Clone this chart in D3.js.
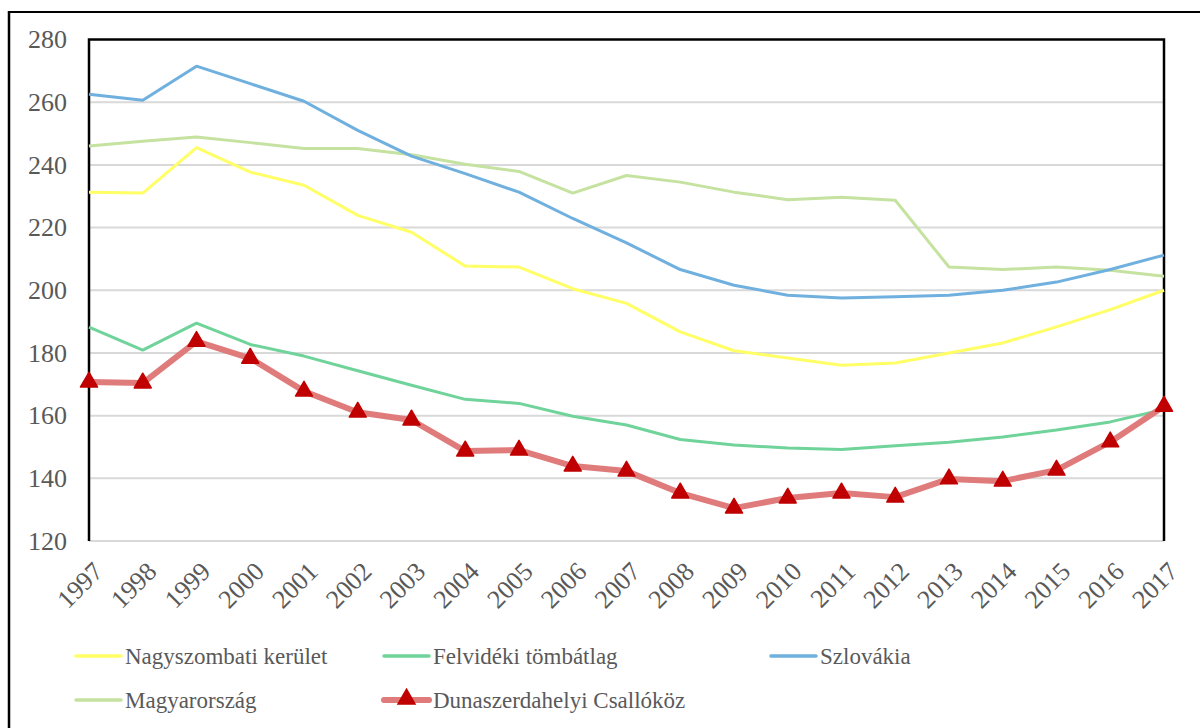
<!DOCTYPE html>
<html>
<head>
<meta charset="utf-8">
<script src="https://cdn.jsdelivr.net/npm/d3@7"></script>
<style>
  body { margin: 0; background: #fff; }
  svg text { font-family: "Liberation Serif", "Times New Roman", "DejaVu Serif", serif; fill: #595959; }
</style>
</head>
<body>
<div id="chart"></div>
<script>
// Years on the x axis
var years = [1997, 1998, 1999, 2000, 2001, 2002, 2003, 2004, 2005, 2006, 2007,
             2008, 2009, 2010, 2011, 2012, 2013, 2014, 2015, 2016, 2017];

// Series values
var nagyszombati = [231.3, 231.0, 245.5, 237.7, 233.5, 223.9, 218.5, 207.7, 207.4, 200.5, 195.8,
                    186.7, 180.7, 178.4, 176.1, 176.8, 180.0, 183.2, 188.3, 193.8, 200.0];
var felvideki = [188.2, 180.9, 189.5, 182.7, 179.0, 174.3, 169.7, 165.2, 163.9, 159.8, 157.0,
                 152.4, 150.6, 149.7, 149.2, 150.4, 151.5, 153.2, 155.4, 158.0, 162.0];
var szlovakia = [262.5, 260.6, 271.5, 265.9, 260.3, 251.0, 242.8, 237.2, 231.3, 222.9, 215.1,
                 206.6, 201.6, 198.4, 197.5, 197.9, 198.4, 200.0, 202.6, 206.6, 211.2];
var magyarorszag = [246.0, 247.5, 248.9, 247.1, 245.2, 245.2, 243.2, 240.2, 237.9, 231.0, 236.6,
                    234.5, 231.3, 228.9, 229.7, 228.7, 207.4, 206.6, 207.4, 206.4, 204.5];
var dunaszerdahelyi = [170.7, 170.4, 183.7, 178.3, 167.8, 161.1, 158.6, 148.7, 149.0, 143.9, 142.3,
                       135.3, 130.5, 133.7, 135.3, 134.0, 139.8, 139.1, 142.6, 151.6, 163.0];

var yTicks = [120, 140, 160, 180, 200, 220, 240, 260, 280];

var width = 1200;
var height = 728;
var margin = { top: 39.5, right: 36, bottom: 187, left: 89 };

var svg = d3.select("#chart")
  .append("svg")
  .attr("width", width)
  .attr("height", height);

// Outer frame (only top and left edges are visible)
svg.append("line")
  .attr("x1", 9).attr("x2", width).attr("y1", 12).attr("y2", 12)
  .attr("stroke", "#000").attr("stroke-width", 2);
svg.append("line")
  .attr("x1", 9).attr("x2", 9).attr("y1", 11).attr("y2", height)
  .attr("stroke", "#000").attr("stroke-width", 2.5);

var xScale = d3.scalePoint()
  .domain(years)
  .range([margin.left, width - margin.right]);

var yScale = d3.scaleLinear()
  .domain([120, 280])
  .range([height - margin.bottom, margin.top]);

// Gridlines
svg.append("g")
  .selectAll("line")
  .data(yTicks.slice(0, -1))
  .enter().append("line")
  .attr("x1", margin.left)
  .attr("x2", width - margin.right)
  .attr("y1", function (d) { return yScale(d); })
  .attr("y2", function (d) { return yScale(d); })
  .attr("stroke", "#d9d9d9")
  .attr("stroke-width", 2);

// Plot border: top, left, right
svg.append("path")
  .attr("d", "M" + margin.left + "," + (height - margin.bottom) +
             "V" + margin.top +
             "H" + (width - margin.right) +
             "V" + (height - margin.bottom))
  .attr("fill", "none")
  .attr("stroke", "#000")
  .attr("stroke-width", 2.5);

// Y axis labels
var yAxis = svg.append("g")
  .attr("transform", "translate(" + margin.left + ",0)")
  .call(d3.axisLeft(yScale).tickValues(yTicks).tickSize(0).tickPadding(22));
yAxis.select(".domain").remove();
yAxis.selectAll("text")
  .style("font-size", "26px")
  .attr("fill", "#595959");

// X axis labels, rotated
var xAxis = svg.append("g")
  .attr("transform", "translate(0," + (height - margin.bottom) + ")")
  .call(d3.axisBottom(xScale).tickSize(0).tickFormat(function (d) { return d; }));
xAxis.select(".domain").remove();
xAxis.selectAll("text")
  .style("font-size", "26px")
  .attr("fill", "#595959")
  .style("text-anchor", "end")
  .attr("dy", "0.7em")
  .attr("transform", "translate(0,17) rotate(-45)");

var series = [
  { name: "Nagyszombati kerület", values: nagyszombati, color: "#ffff66", width: 3 },
  { name: "Felvidéki tömbátlag", values: felvideki, color: "#6fd39a", width: 3 },
  { name: "Szlovákia", values: szlovakia, color: "#6fb0df", width: 3 },
  { name: "Magyarország", values: magyarorszag, color: "#c5e2a0", width: 3 },
  { name: "Dunaszerdahelyi Csallóköz", values: dunaszerdahelyi, color: "#e07b7b", width: 6, marker: "#c00000" }
];

var line = d3.line()
  .x(function (d, i) { return xScale(years[i]); })
  .y(function (d) { return yScale(d); });

var drawOrder = [3, 2, 0, 1, 4];
drawOrder.forEach(function (k) {
  var s = series[k];
  svg.append("path")
    .datum(s.values)
    .attr("fill", "none")
    .attr("stroke", s.color)
    .attr("stroke-width", s.width)
    .attr("stroke-linejoin", "round")
    .attr("d", line);
});

// Triangle markers for the highlighted series
var tri = d3.symbol().type(d3.symbolTriangle).size(125);
svg.append("g")
  .selectAll("path")
  .data(dunaszerdahelyi)
  .enter().append("path")
  .attr("d", tri)
  .attr("transform", function (d, i) { return "translate(" + xScale(years[i]) + "," + yScale(d) + ")"; })
  .attr("fill", "#c00000")
  .attr("stroke", "#c00000")
  .attr("stroke-width", 1.5)
  .attr("stroke-linejoin", "round");

// Legend
var legendPos = [
  { x: 76, y: 656 }, { x: 384, y: 656 }, { x: 771, y: 656 },
  { x: 76, y: 700 }, { x: 384, y: 700 }
];

var legend = svg.selectAll(".legend")
  .data(series)
  .enter().append("g")
  .attr("class", "legend")
  .attr("transform", function (d, i) { return "translate(" + legendPos[i].x + "," + legendPos[i].y + ")"; });

legend.append("line")
  .attr("x1", 0).attr("x2", 45)
  .attr("stroke", function (d) { return d.color; })
  .attr("stroke-width", function (d) { return d.marker ? 6 : 3.5; })
  .attr("stroke-linecap", "round");

legend.filter(function (d) { return d.marker; })
  .append("path")
  .attr("d", tri)
  .attr("transform", "translate(22.5,-1)")
  .attr("fill", function (d) { return d.marker; })
  .attr("stroke", function (d) { return d.marker; })
  .attr("stroke-width", 1.5);

legend.append("text")
  .attr("x", 49)
  .attr("dy", "0.33em")
  .style("font-size", "23px")
  .text(function (d) { return d.name; });
</script>
</body>
</html>
